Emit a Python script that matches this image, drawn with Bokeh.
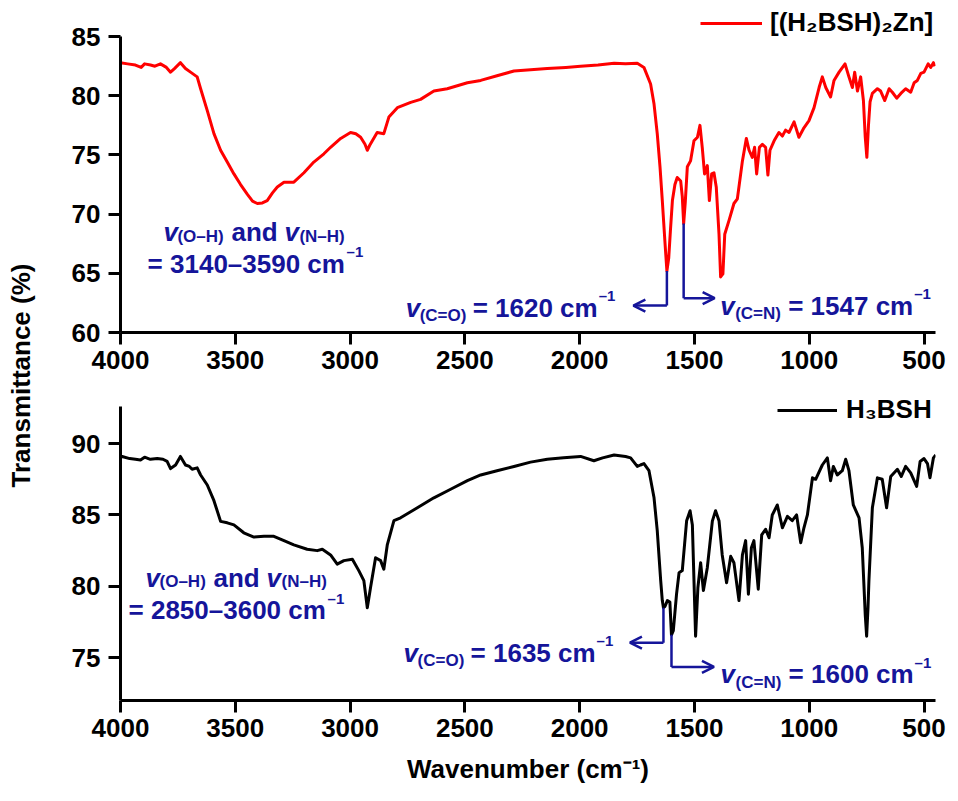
from bokeh.plotting import figure
from bokeh.models import (Range1d, FixedTicker, Label, Arrow, OpenHead, Legend, LegendItem)
from bokeh.layouts import row, column
from bokeh.embed import file_html
from bokeh.resources import INLINE

# ---------------- data ----------------
# [(H2BSH)2Zn] FT-IR spectrum
wn_zn = [4000, 3969, 3935, 3910, 3895, 3869, 3850, 3826, 3800, 3782, 3765, 3739, 3717, 3695,
         3666, 3651, 3622, 3593, 3564, 3535, 3506, 3477, 3448, 3425, 3404, 3382, 3361, 3338,
         3317, 3288, 3245, 3201, 3158, 3114, 3085, 3041, 2998, 2975, 2954, 2935, 2925, 2915,
         2903, 2882, 2853, 2831, 2794, 2736, 2693, 2635, 2577, 2489, 2431, 2360, 2286, 2141,
         2060, 1996, 1920, 1850, 1800, 1749, 1720, 1691, 1676, 1662, 1650, 1640, 1628, 1620,
         1612, 1605, 1596, 1585, 1575, 1560, 1553, 1547, 1540, 1531, 1517, 1502, 1487, 1476,
         1466, 1456, 1444, 1435, 1425, 1415, 1405, 1393, 1386, 1376, 1368, 1349, 1328, 1313,
         1291, 1274, 1262, 1248, 1238, 1229, 1217, 1204, 1190, 1180, 1171, 1153, 1132, 1117,
         1103, 1088, 1066, 1045, 1023, 1001, 979, 957, 943, 928, 907, 892, 870, 844, 827, 812,
         802, 790, 776, 764, 756, 749, 742, 735, 725, 703, 689, 671, 652, 638, 619, 601, 580,
         558, 543, 529, 514, 500, 482, 471, 459, 453]
t_zn = [82.8, 82.7, 82.6, 82.4, 82.7, 82.6, 82.5, 82.7, 82.4, 82.0, 82.3, 82.8, 82.3, 82.0,
        81.6, 80.6, 78.75, 76.8, 75.4, 74.4, 73.4, 72.5, 71.7, 71.1, 70.9, 70.95, 71.15, 71.8,
        72.3, 72.7, 72.7, 73.5, 74.4, 75.1, 75.65, 76.4, 76.9, 76.8, 76.5, 75.9, 75.4, 75.8,
        76.2, 76.9, 76.8, 78.2, 79.0, 79.45, 79.7, 80.4, 80.6, 81.1, 81.3, 81.7, 82.1, 82.3,
        82.4, 82.5, 82.6, 82.75, 82.7, 82.75, 82.4, 81.0, 79.3, 76.8, 74.0, 71.15, 67.5, 65.2,
        66.3, 68.5, 71.15, 72.5, 73.1, 72.8, 71.5, 69.2, 71.0, 74.0, 74.5, 76.2, 76.5, 77.5,
        75.65, 73.4, 74.1, 71.15, 73.4, 73.5, 72.3, 68.3, 64.7, 64.95, 68.3, 69.5, 70.9, 71.3,
        74.5, 76.4, 75.4, 74.8, 75.65, 73.4, 75.65, 75.9, 75.65, 73.3, 75.4, 76.2, 76.9, 76.6,
        77.1, 76.9, 77.8, 76.5, 77.3, 77.9, 79.0, 80.7, 81.6, 80.7, 79.9, 81.3, 82.0, 82.7,
        81.6, 80.7, 82.0, 80.4, 81.6, 79.6, 76.5, 74.8, 77.5, 79.5, 80.2, 80.6, 80.4, 79.6,
        80.6, 80.3, 79.8, 80.2, 80.6, 80.3, 81.1, 81.3, 81.9, 82.0, 82.7, 82.4, 82.8, 82.5]

# H3BSH FT-IR spectrum
wn_h3 = [4000, 3993, 3960, 3935, 3913, 3895, 3870, 3840, 3815, 3797, 3782, 3760, 3739, 3717,
         3700, 3688, 3666, 3651, 3622, 3593, 3564, 3535, 3506, 3463, 3419, 3375, 3332, 3288,
         3245, 3187, 3143, 3121, 3085, 3056, 3027, 2990, 2962, 2940, 2925, 2911, 2889, 2867,
         2853, 2838, 2809, 2780, 2707, 2635, 2562, 2489, 2431, 2360, 2286, 2214, 2141, 2070,
         1996, 1938, 1900, 1850, 1800, 1778, 1749, 1735, 1720, 1698, 1676, 1662, 1647, 1640,
         1635, 1628, 1618, 1607, 1600, 1592, 1578, 1567, 1553, 1534, 1519, 1509, 1495, 1485,
         1473, 1461, 1444, 1422, 1408, 1393, 1379, 1360, 1342, 1328, 1306, 1291, 1277, 1265,
         1252, 1241, 1222, 1207, 1190, 1175, 1161, 1139, 1117, 1095, 1074, 1055, 1037, 1023,
         1008, 986, 972, 943, 921, 907, 895, 878, 856, 841, 827, 808, 783, 769, 756, 750, 744,
         740, 725, 703, 682, 663, 645, 616, 599, 580, 558, 532, 517, 500, 485, 474, 459, 449]
t_h3 = [89.0, 89.1, 88.95, 88.9, 88.85, 89.05, 88.9, 88.95, 88.9, 88.75, 88.25, 88.5, 89.1, 88.5,
        88.4, 88.2, 88.3, 87.8, 87.1, 86.0, 84.55, 84.45, 84.3, 83.75, 83.45, 83.5, 83.5, 83.2,
        82.9, 82.6, 82.5, 82.6, 82.2, 81.55, 81.8, 81.9, 81.1, 80.4, 78.5, 79.9, 82.0, 81.8,
        81.2, 82.9, 84.6, 84.8, 85.5, 86.2, 86.8, 87.4, 87.8, 88.1, 88.4, 88.7, 88.9, 89.0,
        89.1, 88.8, 89.0, 89.2, 89.1, 89.0, 88.4, 88.5, 88.6, 88.1, 86.2, 83.9, 80.4, 79.0,
        78.5, 78.6, 79.0, 78.9, 76.6, 76.9, 79.45, 80.95, 81.1, 84.6, 85.3, 84.3, 76.5, 79.9,
        81.65, 79.7, 81.3, 84.57, 85.3, 84.6, 82.2, 80.25, 82.1, 81.65, 79.0, 82.2, 83.2, 79.45,
        82.7, 83.2, 79.8, 83.6, 84.0, 83.4, 85.0, 85.7, 84.1, 84.9, 84.6, 85.0, 83.05, 84.1,
        85.0, 87.6, 87.5, 88.5, 89.0, 87.4, 88.4, 87.8, 88.1, 88.9, 88.1, 85.7, 84.8, 82.7, 78.0,
        76.5, 78.5, 80.4, 85.5, 87.6, 87.5, 85.5, 87.7, 88.2, 87.7, 88.4, 87.95, 87.0, 88.75,
        88.95, 88.6, 87.6, 89.0, 89.2]

# assigned bands: (C=O), (C=N)
zn_band_wn = [1620, 1547]
zn_band_t = [65.2, 69.2]
h3_band_wn = [1635, 1600]
h3_band_t = [78.5, 76.6]

# O-H / N-H ranges
zn_oh_range = "3140–3590"
h3_oh_range = "2850–3600"

x_ticks = [4000, 3500, 3000, 2500, 2000, 1500, 1000, 500]
zn_y_ticks = [60, 65, 70, 75, 80, 85]
h3_y_ticks = [75, 80, 85, 90]

# ---------------- style ----------------
FONT = "Liberation Sans"
NAVY = "#15159a"
MAIN = 26
SUB = 17
SUP = 15


def style_axes(p, yticks, ybounds):
    p.xaxis.ticker = FixedTicker(ticks=x_ticks)
    p.yaxis.ticker = FixedTicker(ticks=yticks)
    p.yaxis.bounds = ybounds
    for ax in (p.xaxis[0], p.yaxis[0]):
        ax.axis_line_width = 3
        ax.axis_line_color = "black"
        ax.major_tick_line_width = 3
        ax.major_tick_out = 12
        ax.major_tick_in = 0
        ax.minor_tick_line_color = None
        ax.major_label_text_font = FONT
        ax.major_label_text_font_size = f"{MAIN}px"
        ax.major_label_text_font_style = "bold"
        ax.major_label_text_color = "black"
        ax.axis_label_text_font = FONT
        ax.axis_label_text_font_size = f"{MAIN}px"
        ax.axis_label_text_font_style = "bold"
        ax.axis_label_text_color = "black"
    p.xaxis.major_label_standoff = 6
    p.yaxis.major_label_standoff = 8
    p.xgrid.visible = False
    p.ygrid.visible = False
    p.outline_line_color = None


def put(p, x, y, pieces):
    """Compose a line of text from (text, dx, dy, size, style) pieces."""
    for text, dx, dy, size, style in pieces:
        p.add_layout(Label(x=x, y=y, x_offset=dx, y_offset=dy, text=text,
                           text_font=FONT, text_font_size=f"{size}px",
                           text_font_style=style, text_color=NAVY,
                           text_align="left", text_baseline="alphabetic"))


def band_marker(p, wn, t, foot, tip):
    p.segment(x0=[wn], y0=[t], x1=[wn], y1=[foot], line_color=NAVY, line_width=2.5)
    p.add_layout(Arrow(end=OpenHead(size=12, line_color=NAVY, line_width=2.5),
                       x_start=wn, y_start=foot, x_end=tip, y_end=foot,
                       line_color=NAVY, line_width=2.5))


def oh_label(p, x, y1, y2, rng):
    put(p, x[0], y1, [("v", 0, 0, MAIN, "bold italic"),
                      ("(O–H)", 14, -4, SUB, "bold"),
                      ("and", 68, 0, MAIN, "bold"),
                      ("v", 121, 0, MAIN, "bold italic"),
                      ("(N–H)", 136, -4, SUB, "bold")])
    put(p, x[1], y2, [(f"= {rng} cm", 0, 0, MAIN, "bold"),
                      ("–1", 199, 12, SUP, "bold")])


def band_label(p, x, y, sub, wn, sub_dx, eq_dx):
    put(p, x, y, [("v", 0, 0, MAIN, "bold italic"),
                  (sub, sub_dx, -8, SUB, "bold"),
                  (f"= {wn} cm", eq_dx, 0, MAIN, "bold"),
                  ("–1", eq_dx + 126, 12, SUP, "bold")])


def legend(p, label, renderer, loc, glyph_width, standoff):
    p.add_layout(Legend(items=[LegendItem(label=label, renderers=[renderer])],
                        location=loc, glyph_width=glyph_width, glyph_height=24,
                        label_standoff=standoff, padding=0, margin=0, spacing=0,
                        label_height=30, label_text_font=FONT,
                        label_text_font_size=f"{MAIN}px", label_text_font_style="bold",
                        label_text_color="black", background_fill_alpha=0,
                        border_line_alpha=0))


# ---------------- top panel: [(H2BSH)2Zn] ----------------
# frame reaches a little above 85 so the key fits; the axis line stops at 85
top = figure(width=918, height=383, x_range=Range1d(4000, 450), y_range=Range1d(60, 87.8),
             output_backend="svg", toolbar_location=None,
             min_border_left=80, min_border_right=23, min_border_top=3, min_border_bottom=51)
style_axes(top, zn_y_ticks, (60, 85))
r_zn = top.line(wn_zn, t_zn, line_color="#ff0000", line_width=3, line_join="round")

band_marker(top, zn_band_wn[0], zn_band_t[0], 62.28, 1766)
band_marker(top, zn_band_wn[1], zn_band_t[1], 62.9, 1412)
oh_label(top, (3813, 3882), 68.47, 65.80, zn_oh_range)
band_label(top, 2758, 62.1, "(C=O)", zn_band_wn[0], 14, 67)
band_label(top, 1388, 62.28, "(C=N)", zn_band_wn[1], 15, 68)
legend(top, "[(H₂BSH)₂Zn]", r_zn, (580, 294), 62, 8)

# ---------------- bottom panel: H3BSH ----------------
bot = figure(width=918, height=418, x_range=Range1d(4000, 450), y_range=Range1d(72, 94.0),
             output_backend="svg", toolbar_location=None,
             min_border_left=80, min_border_right=23, min_border_top=3, min_border_bottom=101)
style_axes(bot, h3_y_ticks, (72, 92.6))
bot.xaxis.axis_label = "Wavenumber (cm⁻¹)"
bot.xaxis.axis_label_standoff = 14
r_h3 = bot.line(wn_h3, t_h3, line_color="black", line_width=3, line_join="round")

band_marker(bot, h3_band_wn[0], h3_band_t[0], 76.05, 1781)
band_marker(bot, h3_band_wn[1], h3_band_t[1], 74.35, 1415)
oh_label(bot, (3891, 3965), 80.60, 78.32, h3_oh_range)
band_label(bot, 2767, 75.36, "(C=O)", h3_band_wn[0], 14, 67)
band_label(bot, 1386, 73.85, "(C=N)", h3_band_wn[1], 15, 68)
legend(bot, "H₃BSH", r_h3, (657, 275), 60, 9)

# ---------------- shared y-axis title ----------------
ylab = figure(width=40, height=750, x_range=Range1d(0, 1), y_range=Range1d(0, 1),
              output_backend="svg", toolbar_location=None, title="Transmittance (%)",
              title_location="left", min_border=0)
ylab.title.align = "center"
ylab.title.text_font = FONT
ylab.title.text_font_size = f"{MAIN}px"
ylab.title.text_font_style = "bold"
ylab.title.text_color = "black"
ylab.axis.visible = False
ylab.grid.visible = False
ylab.outline_line_color = None

layout = row(ylab, column(top, bot))

with open("out.html", "w") as f:
    f.write(file_html(layout, INLINE))
